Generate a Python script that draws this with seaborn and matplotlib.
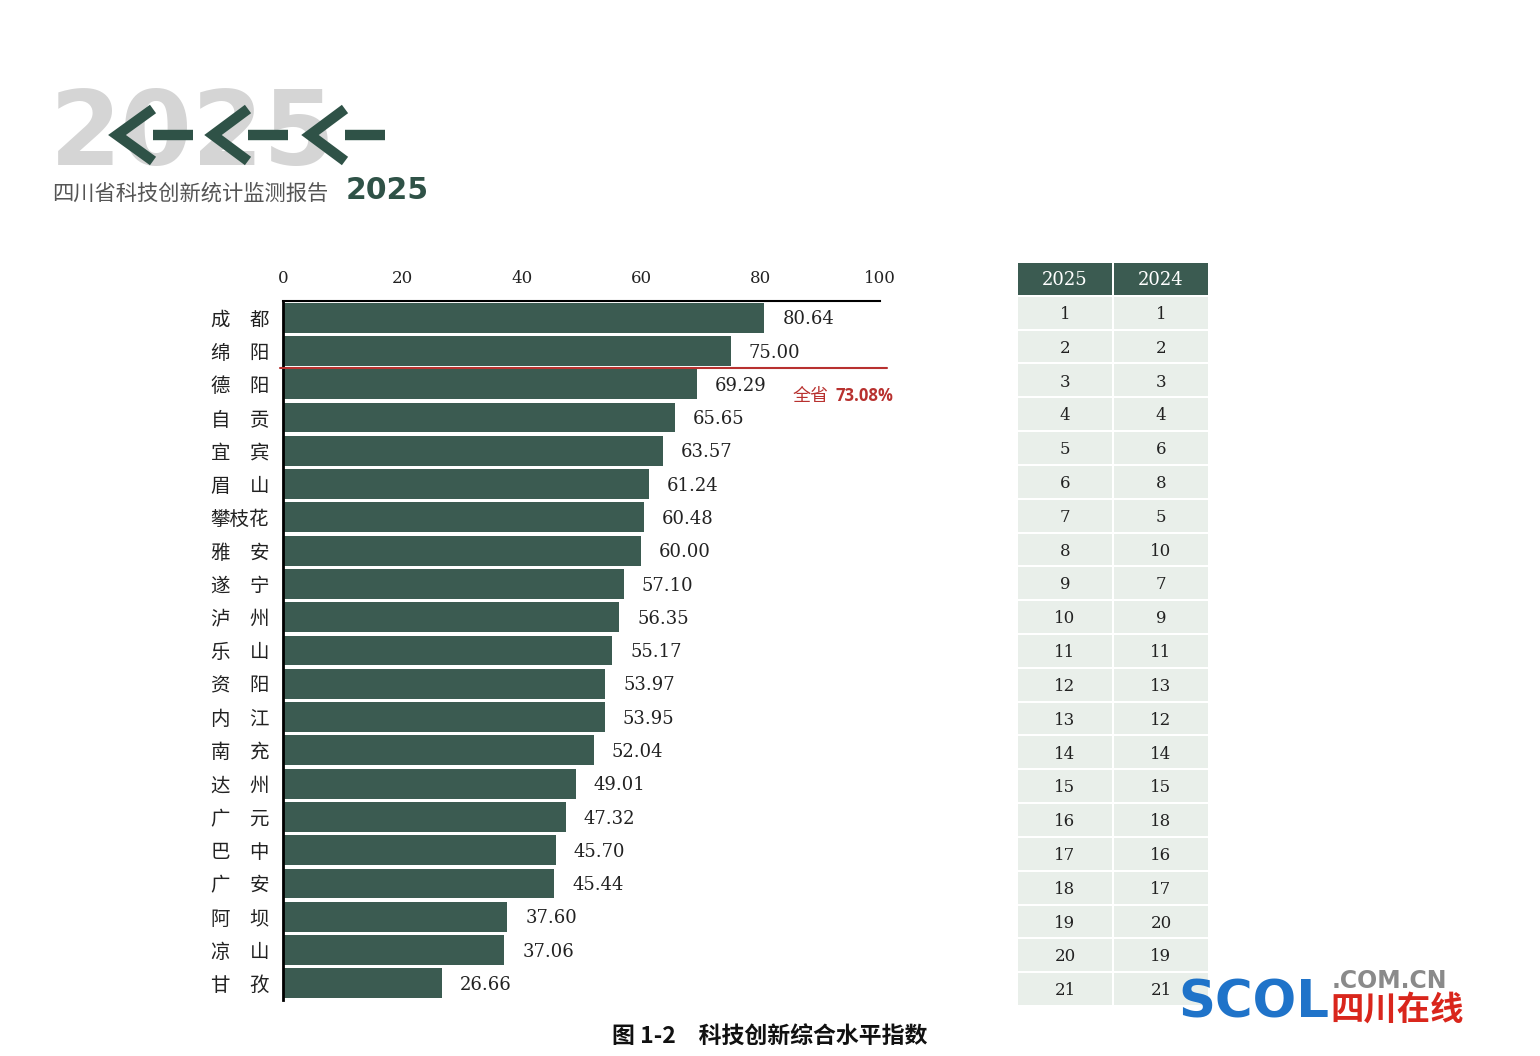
import matplotlib
matplotlib.use("Agg")
import matplotlib.pyplot as plt
import seaborn as sns
import pandas as pd
from matplotlib.patches import Rectangle

# ---------------- data ----------------
cities = ["成　都", "绵　阳", "德　阳", "自　贡", "宜　宾", "眉　山", "攀枝花", "雅　安",
          "遂　宁", "泸　州", "乐　山", "资　阳", "内　江", "南　充", "达　州", "广　元",
          "巴　中", "广　安", "阿　坝", "凉　山", "甘　孜"]
index_values = [80.64, 75.00, 69.29, 65.65, 63.57, 61.24, 60.48, 60.00, 57.10, 56.35,
                55.17, 53.97, 53.95, 52.04, 49.01, 47.32, 45.70, 45.44, 37.60, 37.06, 26.66]
rank_2025 = list(range(1, 22))
rank_2024 = [1, 2, 3, 4, 6, 8, 5, 10, 7, 9, 11, 13, 12, 14, 15, 18, 16, 17, 20, 19, 21]
table_headers = ["2025", "2024"]
x_ticks = [0, 20, 40, 60, 80, 100]
province_label = "全省"
province_value = "73.08%"

BAR = "#3b5b51"
DARK = "#2f5247"
LIGHT = "#e9efea"
RED = "#b8312f"
SERIF = ["DejaVu Serif"]

sns.set_theme(style="white")
plt.rcParams["font.family"] = ["Noto Sans CJK SC", "DejaVu Sans"]

W, H = 1540, 1056
fig = plt.figure(figsize=(W / 100, H / 100), dpi=100)
fig.patch.set_facecolor("white")

def fx(px):
    return px / W

def fy(py):
    return 1 - py / H

# ---------------- bar chart ----------------
ax = fig.add_axes([fx(283), fy(1000), fx(880) - fx(283), fy(301) - fy(1000)])
df = pd.DataFrame({"city": cities, "value": index_values})
sns.barplot(data=df, x="value", y="city", orient="h", color=BAR, width=0.9,
            saturation=1, ax=ax, edgecolor="none")
ax.set_xlim(0, 100)
ax.set_ylim(len(cities) - 0.5, -0.5)
ax.set_xlabel("")
ax.set_ylabel("")
ax.xaxis.tick_top()
ax.set_xticks(x_ticks)
ax.set_xticklabels([str(t) for t in x_ticks], family=SERIF, fontsize=12, color="#222")
ax.tick_params(axis="x", length=0, pad=10)
ax.tick_params(axis="y", length=0, pad=10, labelsize=14, labelcolor="#222")
for s in ["right", "bottom"]:
    ax.spines[s].set_visible(False)
ax.spines["top"].set_color("black")
ax.spines["top"].set_linewidth(1.5)
ax.spines["left"].set_color("black")
ax.spines["left"].set_linewidth(2)
ax.grid(False)

for i, v in enumerate(index_values):
    ax.text(v + 3, i + 0.05, f"{v:.2f}", va="center", ha="left", family=SERIF,
            fontsize=13, color="#222")

# provincial average line between 2nd and 3rd
ax.plot([-0.5, 101.2], [1.5, 1.5], color=RED, lw=1.5, clip_on=False, zorder=5)
ax.text(85.3, 2.35, province_label, color=RED, fontsize=13, va="center", ha="left")
ax.text(92.6, 2.35, province_value, color=RED, fontsize=12, va="center", ha="left",
        fontweight="bold", family=["Open Sans", "DejaVu Sans"])

# ---------------- rank table ----------------
tax = fig.add_axes([fx(1017), fy(1006), fx(1209) - fx(1017), fy(262) - fy(1006)])
tax.set_xlim(0, 2)
tax.set_ylim(len(rank_2025) + 1, 0)
tax.axis("off")
for c, h in enumerate(table_headers):
    tax.add_patch(Rectangle((c + 0.01, 0.03), 0.98, 0.94, color=BAR, lw=0))
    tax.text(c + 0.5, 0.52, h, ha="center", va="center", color="white",
             family=SERIF, fontsize=13)
for r, (a, b) in enumerate(zip(rank_2025, rank_2024), start=1):
    for c, val in enumerate([a, b]):
        tax.add_patch(Rectangle((c + 0.01, r + 0.03), 0.98, 0.94, color=LIGHT, lw=0))
        tax.text(c + 0.5, r + 0.55, str(val), ha="center", va="center",
                 color="#222", family=SERIF, fontsize=12)

# ---------------- decoration overlay ----------------
ov = fig.add_axes([0, 0, 1, 1], zorder=10)
ov.set_xlim(0, W)
ov.set_ylim(H, 0)
ov.axis("off")
ov.patch.set_alpha(0)

ov.text(50, 165, "2025", fontsize=74, fontweight="bold", color="#d5d5d5",
        family=["DejaVu Sans"], va="baseline", ha="left", zorder=1)
for tip, end in [(117, 153), (213, 248), (310, 345)]:
    ov.plot([end, tip, end], [109, 135, 161], color=DARK, lw=7.5,
            solid_joinstyle="miter", solid_capstyle="butt", zorder=2)
    ov.plot([end, end + 40], [135, 135], color=DARK, lw=7.5,
            solid_capstyle="butt", zorder=2)
ov.text(52, 200, "四川省科技创新统计监测报告", fontsize=15.3, color="#555555",
        va="baseline", ha="left")
ov.text(346, 199, "2025", fontsize=21.5, fontweight="bold", color=DARK,
        family=["DejaVu Sans"], va="baseline", ha="left")

# caption
ov.text(770, 1036, "图 1-2　科技创新综合水平指数", fontsize=16.5, fontweight="bold",
        color="#111", ha="center", va="center")

# logo
ov.text(1178, 1003, "SCOL", fontsize=37, fontweight="bold", color="#1f73c9",
        family=["DejaVu Sans"], ha="left", va="center", zorder=5)
ov.text(1332, 993, ".COM.CN", fontsize=17, fontweight="bold", color="#8a8a8a",
        family=["DejaVu Sans"], ha="left", va="bottom", zorder=5)
ov.text(1330, 994, "四川在线", fontsize=24, fontweight="bold", color="#d9261c",
        ha="left", va="top", zorder=5)

fig.savefig("out.png", dpi=100)
